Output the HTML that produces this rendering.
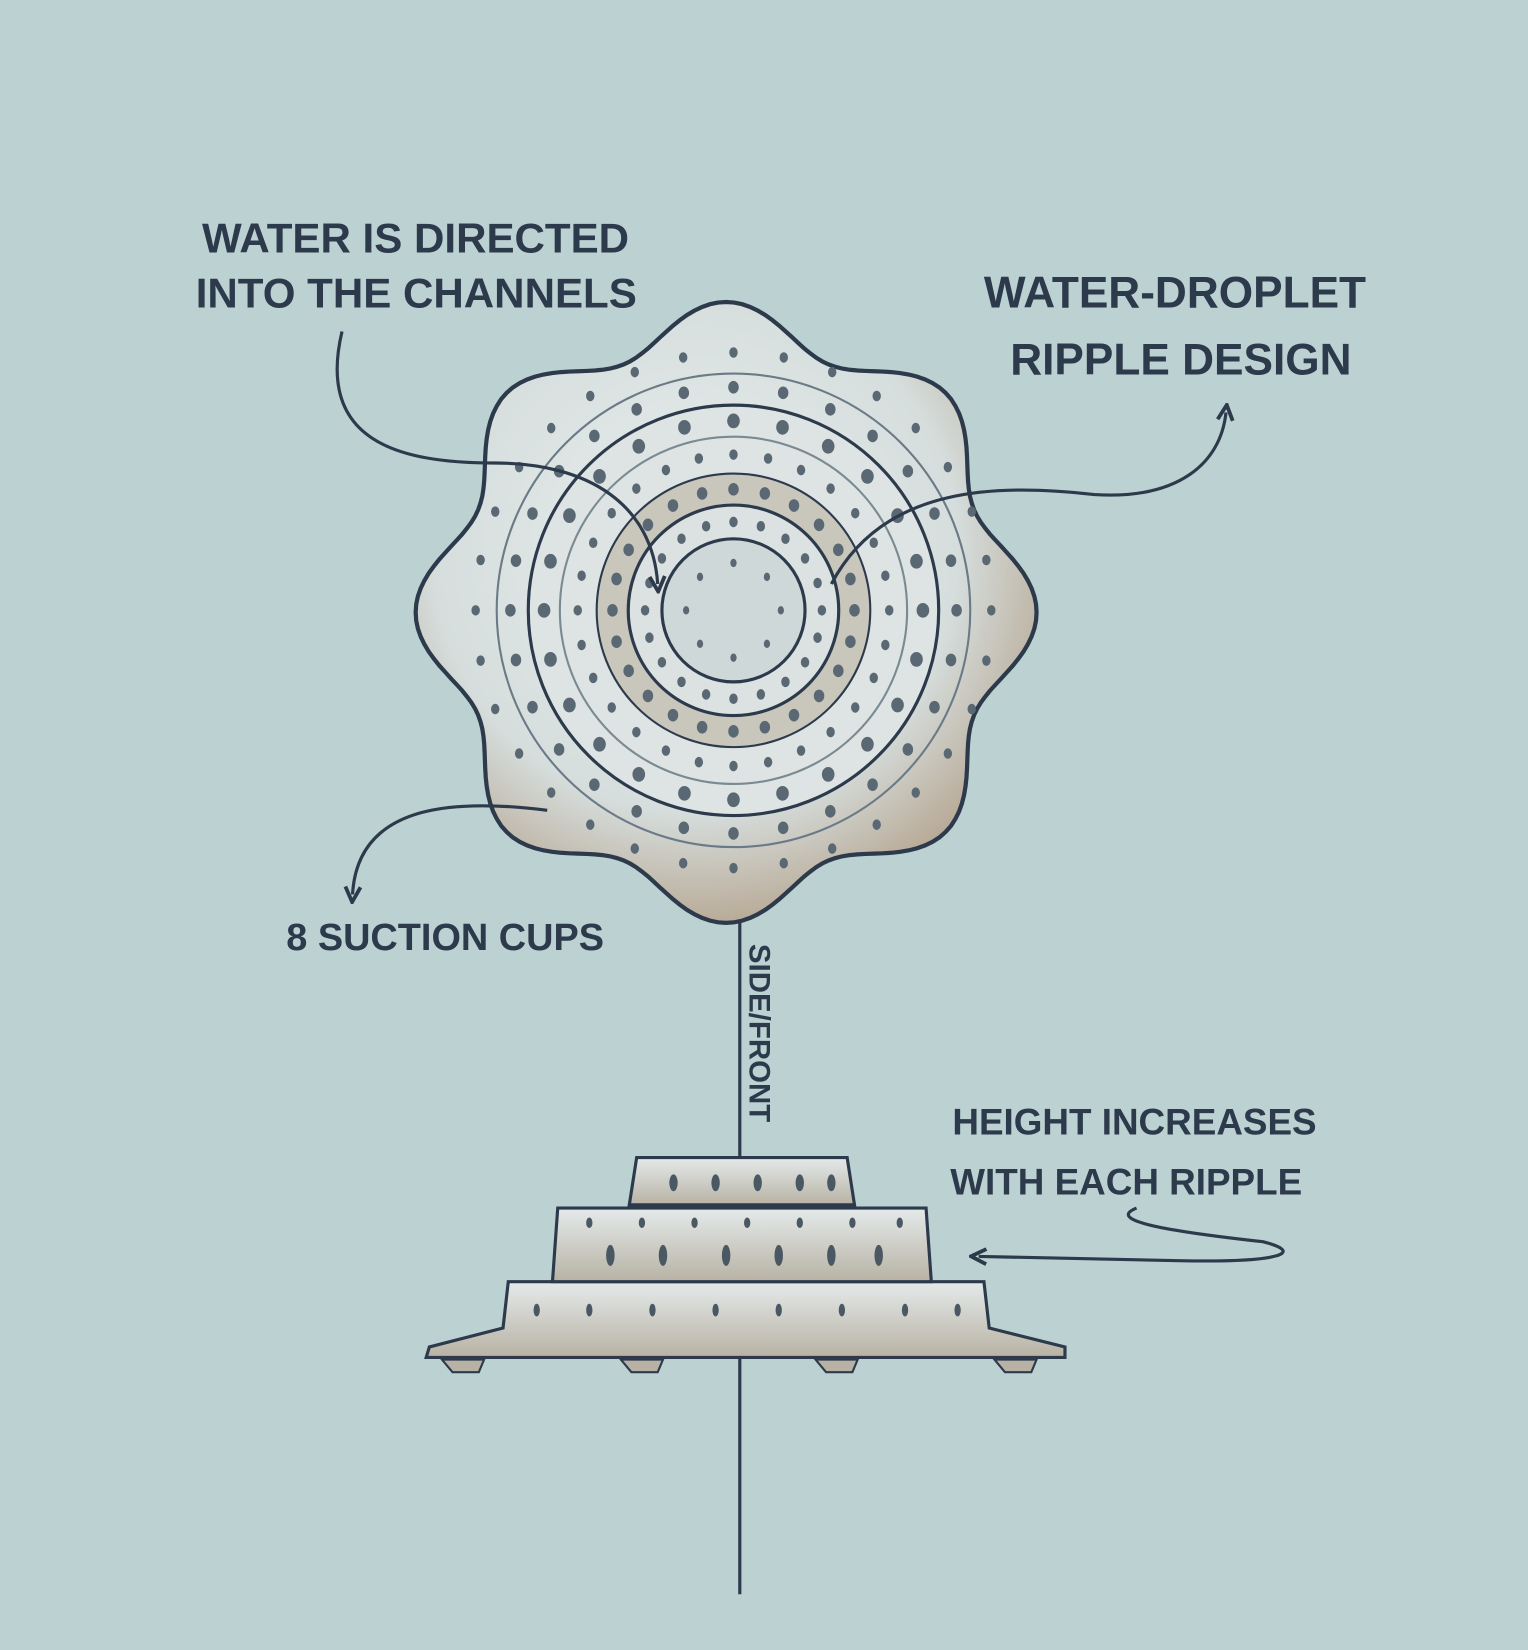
<!DOCTYPE html>
<html><head><meta charset="utf-8"><style>
html,body{margin:0;padding:0;background:#bcd1d1;}
svg{display:block}
text{font-family:"Liberation Sans",sans-serif;fill:#2c3a4c;font-weight:bold;}
</style></head><body>
<svg width="1528" height="1650" viewBox="0 0 1452 1568" preserveAspectRatio="none" xmlns="http://www.w3.org/2000/svg">
<rect width="1452" height="1568" fill="#bcd1d1"/>
<defs>
<radialGradient id="g" cx="45%" cy="40%" r="60%">
<stop offset="0" stop-color="#e8eeee"/><stop offset="0.7" stop-color="#d6dedd"/><stop offset="1" stop-color="#b9ab98"/>
</radialGradient>
<linearGradient id="s" x1="0" y1="0" x2="0" y2="1"><stop offset="0" stop-color="#e4eaea"/><stop offset="1" stop-color="#b8b2a4"/></linearGradient>
<marker id="ah" viewBox="0 0 10 10" refX="5" refY="5" markerWidth="6" markerHeight="6" orient="auto-start-reverse"><path d="M1,1 L9,5 L1,9" fill="none" stroke="#2c3a4c" stroke-width="2"/></marker>
</defs>
<line x1="703" y1="870" x2="703" y2="1515" stroke="#2c3a4c" stroke-width="3"/>
<g transform="translate(690,582)">
<path id="fl" d="M0,0" fill="url(#g)" stroke="#2c3a4c" stroke-width="4"/>
</g>
<g transform="translate(697,580)" fill="none" stroke="#2c3a4c">
<circle r="225" stroke-width="2" stroke="#6a7a86"/>
<circle r="195" stroke-width="3" fill="#dde4e3"/>
<circle r="165" stroke-width="2" stroke="#7a8a92"/>
<circle r="130" stroke-width="2" fill="#c9c6bb"/>
<circle r="100" stroke-width="3" fill="#dbe2e1"/>
<circle r="68" stroke-width="3" fill="#cfd8d8"/>
<g id="holes" fill="#5a6874" stroke="none"></g>
</g>
<g stroke="#2c3a4c" stroke-width="3" fill="url(#s)">
<path d="M405,1290 L1012,1290 L1012,1280 L940,1262 L935,1218 L483,1218 L478,1262 L408,1280 Z"/>
<path d="M525,1218 L530,1148 L880,1148 L885,1218 Z"/>
<path d="M598,1145 L605,1100 L805,1100 L812,1145 Z"/>
<g fill="#b8b2a4" stroke-width="2"><path d="M420,1292 l10,12 h25 l5,-12z"/><path d="M590,1292 l10,12 h25 l5,-12z"/><path d="M775,1292 l10,12 h25 l5,-12z"/><path d="M945,1292 l10,12 h25 l5,-12z"/></g>
</g>
<g fill="#4a5864">
<ellipse cx="640" cy="1124" rx="4" ry="8"/><ellipse cx="680" cy="1124" rx="4" ry="8"/><ellipse cx="720" cy="1124" rx="4" ry="8"/><ellipse cx="760" cy="1124" rx="4" ry="8"/><ellipse cx="790" cy="1124" rx="4" ry="8"/>
<ellipse cx="560" cy="1162" rx="3" ry="5"/><ellipse cx="610" cy="1162" rx="3" ry="5"/><ellipse cx="660" cy="1162" rx="3" ry="5"/><ellipse cx="710" cy="1162" rx="3" ry="5"/><ellipse cx="760" cy="1162" rx="3" ry="5"/><ellipse cx="810" cy="1162" rx="3" ry="5"/><ellipse cx="855" cy="1162" rx="3" ry="5"/>
<ellipse cx="580" cy="1193" rx="4" ry="10"/><ellipse cx="630" cy="1193" rx="4" ry="10"/><ellipse cx="690" cy="1193" rx="4" ry="10"/><ellipse cx="740" cy="1193" rx="4" ry="10"/><ellipse cx="790" cy="1193" rx="4" ry="10"/><ellipse cx="835" cy="1193" rx="4" ry="10"/>
<ellipse cx="510" cy="1245" rx="3" ry="6"/><ellipse cx="560" cy="1245" rx="3" ry="6"/><ellipse cx="620" cy="1245" rx="3" ry="6"/><ellipse cx="680" cy="1245" rx="3" ry="6"/><ellipse cx="740" cy="1245" rx="3" ry="6"/><ellipse cx="800" cy="1245" rx="3" ry="6"/><ellipse cx="860" cy="1245" rx="3" ry="6"/><ellipse cx="910" cy="1245" rx="3" ry="6"/>
</g>
<g fill="none" stroke="#2c3a4c" stroke-width="3">
<path d="M325,315 C300,420 380,440 470,440 C560,440 620,480 625,555" marker-end="url(#ah)"/>
<path d="M790,555 C840,460 950,460 1040,470 C1120,475 1160,440 1165,392" marker-end="url(#ah)"/>
<path d="M520,770 C440,760 340,760 335,850" marker-end="url(#ah)"/>
<path d="M1080,1148 C1050,1160 1110,1170 1200,1180 C1240,1190 1220,1200 1120,1198 L930,1194" marker-end="url(#ah)"/>
</g>
<text x="192" y="240" font-size="40">WATER IS DIRECTED</text>
<text x="186" y="292" font-size="40">INTO THE CHANNELS</text>
<text x="935" y="292" font-size="42">WATER-DROPLET</text>
<text x="960" y="356" font-size="42">RIPPLE DESIGN</text>
<text x="272" y="903" font-size="36">8 SUCTION CUPS</text>
<text x="905" y="1078" font-size="35">HEIGHT INCREASES</text>
<text x="903" y="1135" font-size="35">WITH EACH RIPPLE</text>
<text transform="translate(712,897) rotate(90)" font-size="28">SIDE/FRONT</text>
</svg>
<script>
(function(){var p="",n=8,N=240;for(var i=0;i<=N;i++){var a=i/N*2*Math.PI;var r=275+20*Math.cos(n*(a+Math.PI/2));var x=r*Math.cos(a),y=r*Math.sin(a);p+=(i?"L":"M")+x.toFixed(1)+","+y.toFixed(1);}document.getElementById("fl").setAttribute("d",p+"Z");
var g=document.getElementById("holes"),rings=[[245,32,4],[212,28,5],[180,24,6],[148,28,4],[115,24,5],[84,20,4],[45,8,3]];
rings.forEach(function(r){for(var j=0;j<r[1];j++){var a=j/r[1]*2*Math.PI;var c=document.createElementNS("http://www.w3.org/2000/svg","ellipse");c.setAttribute("cx",(r[0]*Math.cos(a)).toFixed(1));c.setAttribute("cy",(r[0]*Math.sin(a)).toFixed(1));c.setAttribute("rx",r[2]);c.setAttribute("ry",r[2]+1);g.appendChild(c);}});})();
</script>
</body></html>
